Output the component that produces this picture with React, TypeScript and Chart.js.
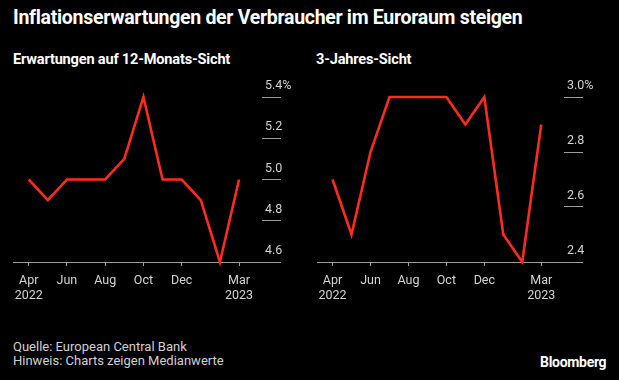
import React, { useEffect, useRef } from "react";
import { Chart, registerables } from "chart.js";

Chart.register(...registerables);

const months = ["Apr", "May", "Jun", "Jul", "Aug", "Sep", "Oct", "Nov", "Dec", "Jan", "Feb", "Mar"];
const twelveMonth = [5.0, 4.9, 5.0, 5.0, 5.0, 5.1, 5.4, 5.0, 5.0, 4.9, 4.6, 5.0];
const threeYear = [2.7, 2.5, 2.8, 3.0, 3.0, 3.0, 3.0, 2.9, 3.0, 2.5, 2.4, 2.9];
const xTickIdx = [0, 2, 4, 6, 8, 11];
const xTickText = [["Apr", "2022"], ["Jun"], ["Aug"], ["Oct"], ["Dec"], ["Mar", "2023"]];
const leftYTicks = [4.6, 4.8, 5.0, 5.2, 5.4];
const rightYTicks = [2.4, 2.6, 2.8, 3.0];

const RED = "#ff2b1f";
const GRID = "#9c9c9c";
const LABEL = "#d2d2d2";
const FONT = "Roboto";

type PanelProps = { values: number[]; yTicks: number[]; width: number; height: number; padRight: number };

function Panel({ values, yTicks, width, height, padRight }: PanelProps) {
  const ref = useRef<HTMLCanvasElement | null>(null);
  useEffect(() => {
    if (!ref.current) return;
    const yMin = yTicks[0];
    const yMax = yTicks[yTicks.length - 1];
    const chart = new Chart(ref.current, {
      type: "line",
      data: {
        labels: months,
        datasets: [
          {
            data: values.map((v, i) => ({ x: i, y: v })),
            borderColor: RED,
            borderWidth: 2.6,
            pointRadius: 0,
            tension: 0,
            clip: false as any,
            borderJoinStyle: "miter",
          },
        ],
      },
      options: {
        animation: false,
        responsive: false,
        devicePixelRatio: 1,
        layout: { padding: { left: 13, right: padRight, top: 27, bottom: 0 } },
        plugins: { legend: { display: false }, tooltip: { enabled: false } },
        scales: {
          x: {
            type: "linear",
            min: -0.82,
            max: 12.2,
            afterBuildTicks: (scale: any) => {
              scale.ticks = xTickIdx.map((v) => ({ value: v }));
            },
            afterFit: (scale: any) => {
              scale.height = 48;
            },
            ticks: {
              autoSkip: false,
              maxRotation: 0,
              color: LABEL,
              padding: 7,
              font: { family: FONT, size: 12.5 },
              callback: (value: any) => {
                const k = xTickIdx.indexOf(Number(value));
                return k >= 0 ? xTickText[k] : "";
              },
            },
            grid: { drawOnChartArea: false, drawTicks: true, tickLength: 4, color: GRID, lineWidth: 1 },
            border: { display: true, color: GRID, width: 1 },
          },
          y: {
            position: "right",
            min: yMin,
            max: yMax,
            afterBuildTicks: (scale: any) => {
              scale.ticks = yTicks.map((v) => ({ value: v }));
            },
            afterFit: (scale: any) => {
              scale.width = 40;
            },
            ticks: {
              color: LABEL,
              padding: -16,
              labelOffset: -11,
              font: { family: FONT, size: 12.5 },
              callback: (value: any) => {
                const v = Number(value);
                const s = v.toFixed(1);
                return Math.abs(v - yMax) < 1e-9 ? s + "%" : s;
              },
            },
            grid: { drawOnChartArea: false, drawTicks: true, tickLength: 19, color: GRID, lineWidth: 1 },
            border: { display: false },
          },
        },
      } as any,
    });
    return () => chart.destroy();
  }, []);
  return <canvas ref={ref} width={width} height={height} style={{ width, height, display: "block" }} />;
}

export default function App() {
  const text: React.CSSProperties = { position: "absolute", whiteSpace: "nowrap", fontFamily: FONT };
  return (
    <div style={{ position: "fixed", left: 0, top: 0, width: 619, height: 380, background: "#000", overflow: "hidden" }}>
      <div style={{ ...text, left: 13, top: 6, fontSize: 19.5, fontWeight: 700, color: "#fff", letterSpacing: -0.3 }}>
        Inflationserwartungen der Verbraucher im Euroraum steigen
      </div>
      <div style={{ ...text, left: 13, top: 50, fontSize: 14.6, fontWeight: 700, color: "#fff", letterSpacing: -0.2 }}>
        Erwartungen auf 12-Monats-Sicht
      </div>
      <div style={{ ...text, left: 316, top: 50, fontSize: 14.6, fontWeight: 700, color: "#fff", letterSpacing: -0.2 }}>
        3-Jahres-Sicht
      </div>
      <div style={{ position: "absolute", left: 0, top: 70 }}>
        <Panel values={twelveMonth} yTicks={leftYTicks} width={310} height={240} padRight={8} />
      </div>
      <div style={{ position: "absolute", left: 304, top: 70 }}>
        <Panel values={threeYear} yTicks={rightYTicks} width={315} height={240} padRight={15} />
      </div>
      <div style={{ ...text, left: 13, top: 340, fontSize: 13, color: "#d0d0d0", lineHeight: "14px" }}>
        Quelle: European Central Bank
        <br />
        Hinweis: Charts zeigen Medianwerte
      </div>
      <div style={{ ...text, left: 540, top: 354, fontSize: 14, fontWeight: 700, color: "#fff", letterSpacing: -0.3 }}>
        Bloomberg
      </div>
    </div>
  );
}
